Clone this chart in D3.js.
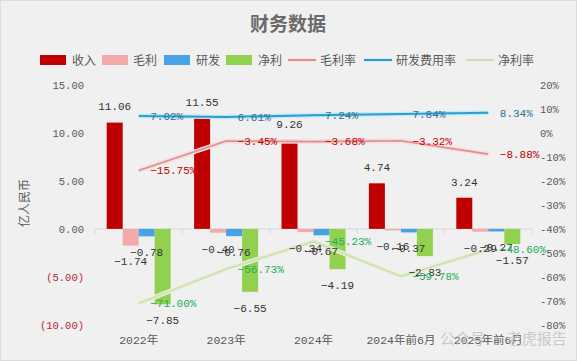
<!DOCTYPE html>
<html>
<head>
<meta charset="utf-8">
<script src="https://cdn.jsdelivr.net/npm/d3@7/dist/d3.min.js"></script>
<style>
  html, body { margin: 0; padding: 0; background: #f0f0f0; }
  svg { display: block; }
  .mono { font-family: "Liberation Mono", "Noto Sans CJK SC", monospace; }
  .cjk { font-family: "Noto Sans CJK SC", sans-serif; }
</style>
</head>
<body>
<script>
// ---------- data ----------
const categories = ["2022年", "2023年", "2024年", "2024年前6月", "2025年前6月"];
const revenue    = [11.06, 11.55, 9.26, 4.74, 3.24];
const grossProfit= [-1.74, -0.40, -0.34, -0.16, -0.29];
const rnd        = [-0.78, -0.76, -0.67, -0.37, -0.27];
const netProfit  = [-7.85, -6.55, -4.19, -2.83, -1.57];
const grossMargin= [-15.75, -3.45, -3.68, -3.32, -8.88];
const rndRate    = [7.02, 6.61, 7.24, 7.84, 8.34];
const netMargin  = [-71.00, -56.73, -45.23, -59.78, -48.60];
const leftTicks  = [-10, -5, 0, 5, 10, 15];
const rightTicks = [-80, -70, -60, -50, -40, -30, -20, -10, 0, 10, 20];

const barSeries = [
  {name: "收入", values: revenue,     color: "#c00000"},
  {name: "毛利", values: grossProfit, color: "#f4aaa8"},
  {name: "研发", values: rnd,         color: "#47a2e6"},
  {name: "净利", values: netProfit,   color: "#92d050"}
];
const lineSeries = [
  {name: "毛利率",     values: grossMargin, color: "#e58a8f", glow: "#f5dcdd", w: 1.6, label: "#c00000"},
  {name: "研发费用率", values: rndRate,     color: "#2a9fcf", glow: "#c3e8f6", w: 2,   label: "#2f6f96"},
  {name: "净利率",     values: netMargin,   color: "#cfe0b4", glow: "#e8f0dd", w: 2,   label: "#21ad5c"}
];

// ---------- layout ----------
const W = 577, H = 361;
const svg = d3.select("body").append("svg").attr("width", W).attr("height", H);

svg.append("rect").attr("x", 0.5).attr("y", 0.5).attr("width", W - 1).attr("height", H - 1)
  .attr("fill", "#f0f0f0").attr("stroke", "#dcdcdc");

const yL = d3.scaleLinear().domain([-10, 15]).range([325, 84.7]);
const yR = d3.scaleLinear().domain([-80, 20]).range([325, 84.7]);
const x0 = d3.scaleBand().domain(categories).range([95, 532]).padding(0);
const x1 = d3.scaleBand().domain(barSeries.map(s => s.name)).range([11.7, 75.7]).padding(0);

// title
svg.append("text").attr("class", "cjk").attr("x", 288).attr("y", 31)
  .attr("text-anchor", "middle").attr("font-size", 19).attr("font-weight", "bold")
  .attr("fill", "#6a6a6a").text("财务数据");

// legend
const legend = [
  {type: "rect", s: barSeries[0], x: 40, tx: 72},
  {type: "rect", s: barSeries[1], x: 102, tx: 133},
  {type: "rect", s: barSeries[2], x: 164, tx: 196},
  {type: "rect", s: barSeries[3], x: 226, tx: 258},
  {type: "line", s: lineSeries[0], x: 288, tx: 320},
  {type: "line", s: lineSeries[1], x: 364, tx: 396},
  {type: "line", s: lineSeries[2], x: 466, tx: 498}
];
legend.forEach(l => {
  if (l.type === "rect") {
    svg.append("rect").attr("x", l.x).attr("y", 55).attr("width", 26).attr("height", 10).attr("fill", l.s.color);
  } else {
    svg.append("line").attr("x1", l.x).attr("x2", l.x + 28).attr("y1", 60).attr("y2", 60)
      .attr("stroke", l.s.color).attr("stroke-width", 2.2);
  }
  svg.append("text").attr("class", "cjk").attr("x", l.tx).attr("y", 64.5)
    .attr("font-size", 12).attr("fill", "#595959").text(l.s.name);
});

// y axis title
svg.append("text").attr("class", "cjk").attr("transform", "translate(29,203) rotate(-90)")
  .attr("text-anchor", "middle").attr("font-size", 12).attr("fill", "#595959").text("亿人民币");

// left axis
const fmtL = v => v < 0 ? "(" + d3.format(".2f")(-v) + ")" : d3.format(".2f")(v);
const gL = svg.append("g").attr("transform", "translate(86,0)")
  .call(d3.axisLeft(yL).tickValues(leftTicks).tickFormat(fmtL).tickSize(0).tickPadding(2));
gL.select(".domain").remove();
gL.selectAll("text").attr("class", "mono").attr("font-size", 10.5)
  .attr("fill", d => d < 0 ? "#b5282e" : "#595959");

// right axis
const gR = svg.append("g").attr("transform", "translate(540,0)")
  .call(d3.axisRight(yR).tickValues(rightTicks).tickFormat(d => d + "%").tickSize(0).tickPadding(0));
gR.select(".domain").remove();
gR.selectAll("text").attr("class", "mono").attr("font-size", 10.5).attr("fill", "#595959");

// zero line + boundary ticks
const y0 = yL(0);
svg.append("line").attr("x1", 95).attr("x2", 532).attr("y1", y0).attr("y2", y0)
  .attr("stroke", "#d9d9d9").attr("stroke-width", 1);
const bounds = categories.map(c => x0(c)).concat([x0.range()[1]]);
svg.selectAll(".btick").data(bounds).enter().append("line")
  .attr("x1", d => d).attr("x2", d => d).attr("y1", y0).attr("y2", y0 + 5)
  .attr("stroke", "#d9d9d9");

// x axis labels
const gX = svg.append("g").attr("transform", "translate(0,336)")
  .call(d3.axisBottom(x0).tickSize(0).tickPadding(0));
gX.select(".domain").remove();
gX.selectAll("text").attr("class", "mono").attr("font-size", 11.5).attr("fill", "#595959")
  .attr("dy", "0.71em");

// bars
const groups = svg.selectAll(".grp").data(categories).enter().append("g")
  .attr("transform", d => `translate(${x0(d)},0)`);
barSeries.forEach(s => {
  groups.append("rect")
    .attr("x", x1(s.name)).attr("width", x1.bandwidth())
    .attr("y", (d, i) => Math.min(yL(s.values[i]), y0))
    .attr("height", (d, i) => Math.abs(yL(s.values[i]) - y0))
    .attr("fill", s.color);
});

// lines
const cx = c => x0(c) + x0.bandwidth() / 2;
lineSeries.forEach(s => {
  const pts = categories.map((c, i) => [cx(c), yR(s.values[i])]);
  const gen = d3.line();
  svg.append("path").attr("d", gen(pts)).attr("fill", "none")
    .attr("stroke", s.glow).attr("stroke-width", 4.5).attr("stroke-linejoin", "round");
  svg.append("path").attr("d", gen(pts)).attr("fill", "none")
    .attr("stroke", s.color).attr("stroke-width", s.w).attr("stroke-linejoin", "round");
});

// bar labels
barSeries.forEach(s => {
  categories.forEach((c, i) => {
    const v = s.values[i];
    const yy = yL(v) + (v < 0 ? 16 : -16);
    svg.append("text").attr("class", "mono")
      .attr("x", x0(c) + x1(s.name) + x1.bandwidth() / 2).attr("y", yy)
      .attr("dy", "0.35em").attr("text-anchor", "middle")
      .attr("font-size", 11).attr("fill", "#333").text(d3.format(".2f")(v));
  });
});

// line labels
lineSeries.forEach(s => {
  categories.forEach((c, i) => {
    svg.append("text").attr("class", "mono")
      .attr("x", cx(c) + 11.5).attr("y", yR(s.values[i]))
      .attr("dy", "0.35em").attr("font-size", 11).attr("fill", s.label)
      .text(d3.format(".2f")(s.values[i]) + "%");
  });
});

// watermark
svg.append("text").attr("class", "cjk").attr("x", 440).attr("y", 344)
  .attr("font-size", 15).attr("fill", "#bdbdbd").attr("opacity", 0.75).text("公众号 · 老虎报告");
</script>
</body>
</html>
